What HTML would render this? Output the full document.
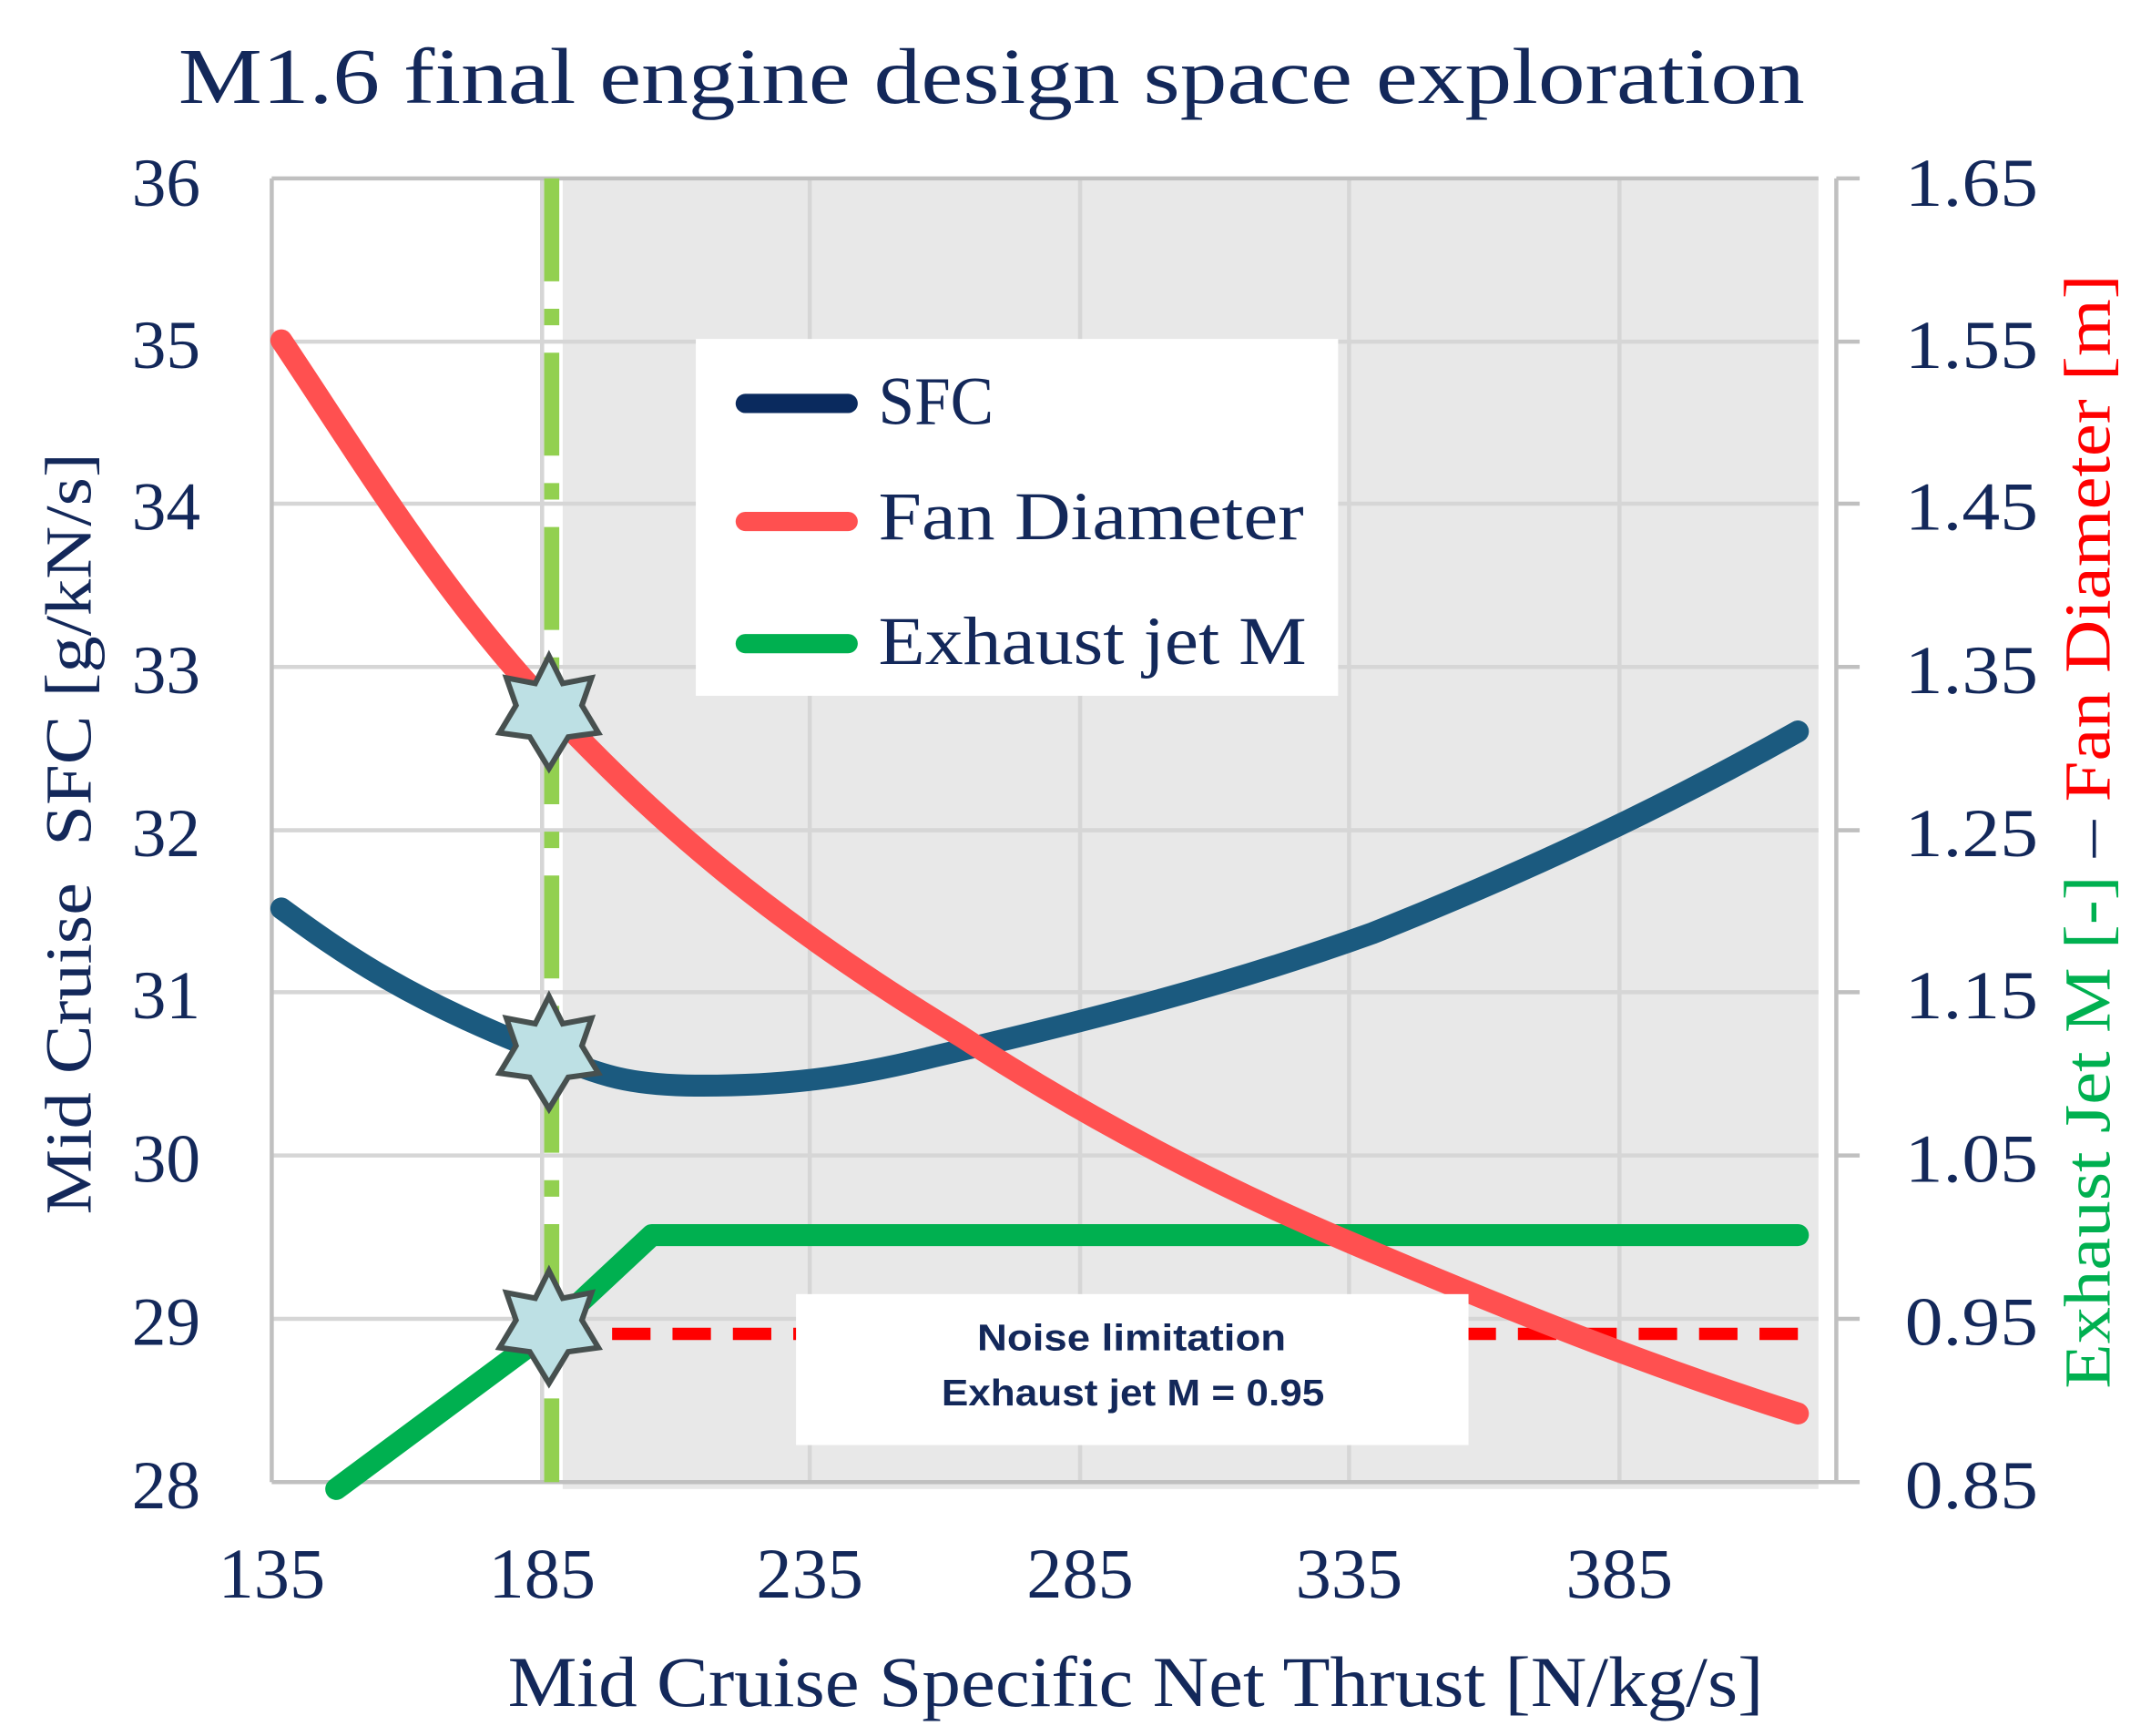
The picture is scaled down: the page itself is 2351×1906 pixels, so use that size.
<!DOCTYPE html>
<html><head><style>html,body{margin:0;padding:0;background:#fff}svg{display:block}</style></head>
<body>
<svg width="2351" height="1906" viewBox="0 0 1560 1265" preserveAspectRatio="none" xmlns="http://www.w3.org/2000/svg">
<defs>
<g id="star"><polygon points="0,-42 10,-22 31,-26 24,-6 36,14 14,17 0,40 -14,17 -36,14 -24,-6 -31,-26 -10,-22" fill="#bde0e4" stroke="#47504f" stroke-width="4" stroke-linejoin="miter"/></g>
</defs>
<text x="130" y="75" textLength="1185" lengthAdjust="spacingAndGlyphs" font-family="Liberation Serif, serif" font-size="58" fill="#13285a">M1.6 final engine design space exploration</text>
<rect x="410" y="130" width="915" height="955" fill="#e8e8e8"/>
<g stroke="#d6d6d6" stroke-width="3">
<line x1="198" y1="249" x2="1325" y2="249"/><line x1="198" y1="367" x2="1325" y2="367"/>
<line x1="198" y1="486" x2="1325" y2="486"/><line x1="198" y1="605" x2="1325" y2="605"/>
<line x1="198" y1="723" x2="1325" y2="723"/><line x1="198" y1="842" x2="1325" y2="842"/>
<line x1="198" y1="961" x2="1325" y2="961"/>
<line x1="395" y1="130" x2="395" y2="1080"/><line x1="590" y1="130" x2="590" y2="1080"/>
<line x1="787" y1="130" x2="787" y2="1080"/><line x1="983" y1="130" x2="983" y2="1080"/>
<line x1="1180" y1="130" x2="1180" y2="1080"/>
</g>
<g stroke="#c0c0c0" stroke-width="3" fill="none">
<line x1="198" y1="130" x2="1325" y2="130"/>
<line x1="198" y1="130" x2="198" y2="1080"/>
<line x1="198" y1="1080" x2="1355" y2="1080"/>
<line x1="1338" y1="130" x2="1338" y2="1080"/>
<line x1="1338" y1="130" x2="1355" y2="130"/><line x1="1338" y1="249" x2="1355" y2="249"/>
<line x1="1338" y1="367" x2="1355" y2="367"/><line x1="1338" y1="486" x2="1355" y2="486"/>
<line x1="1338" y1="605" x2="1355" y2="605"/><line x1="1338" y1="723" x2="1355" y2="723"/>
<line x1="1338" y1="842" x2="1355" y2="842"/><line x1="1338" y1="961" x2="1355" y2="961"/>
</g>
<line x1="402" y1="130" x2="402" y2="1080" stroke="#92d050" stroke-width="11" stroke-dasharray="75,20,12,20"/>
<polyline points="1310,972 420,972" fill="none" stroke="#ff0000" stroke-width="9" stroke-dasharray="28,16"/>
<path d="M245,1085 L400,970 L475,900 L1310,900" fill="none" stroke="#00b050" stroke-width="16" stroke-linecap="round" stroke-linejoin="round"/>
<path d="M205,662 C250,695 300,730 400,768 C440,785 460,790 500,791 C570,792 620,785 680,770 C800,742 900,716 1000,680 C1100,640 1200,595 1310,533" fill="none" stroke="#1b5a7f" stroke-width="16" stroke-linecap="round"/>
<path d="M205,248 C260,330 320,430 400,515 C480,600 560,670 700,755 C800,820 900,870 983,905 C1100,955 1200,995 1310,1030" fill="none" stroke="#ff5050" stroke-width="16" stroke-linecap="round"/>
<rect x="507" y="247" width="468" height="260" fill="#fff"/>
<g stroke-width="14" stroke-linecap="round">
<line x1="543" y1="294" x2="618" y2="294" stroke="#0a2a5e"/>
<line x1="543" y1="380" x2="618" y2="380" stroke="#ff5050"/>
<line x1="543" y1="469" x2="618" y2="469" stroke="#00b050"/>
</g>
<g font-family="Liberation Serif, serif" font-size="50" fill="#13285a" lengthAdjust="spacingAndGlyphs">
<text x="640" y="309" textLength="84" lengthAdjust="spacingAndGlyphs">SFC</text>
<text x="640" y="393" textLength="310" lengthAdjust="spacingAndGlyphs">Fan Diameter</text>
<text x="640" y="484" textLength="312" lengthAdjust="spacingAndGlyphs">Exhaust jet M</text>
</g>
<rect x="580" y="943" width="490" height="110" fill="#fff"/>
<g font-family="Liberation Sans, sans-serif" font-size="27" font-weight="bold" fill="#13285a">
<text x="712" y="984" textLength="225" lengthAdjust="spacingAndGlyphs">Noise limitation</text>
<text x="686" y="1024" textLength="279" lengthAdjust="spacingAndGlyphs">Exhaust jet M = 0.95</text>
</g>
<use href="#star" x="400" y="520"/><use href="#star" x="400" y="768"/><use href="#star" x="400" y="968"/>
<g font-family="Liberation Serif, serif" font-size="50" fill="#13285a" text-anchor="end">
<text x="146" y="150">36</text><text x="146" y="268">35</text><text x="146" y="386">34</text>
<text x="146" y="505">33</text><text x="146" y="624">32</text><text x="146" y="742">31</text>
<text x="146" y="861">30</text><text x="146" y="980">29</text><text x="146" y="1099">28</text>
</g>
<g font-family="Liberation Serif, serif" font-size="50" fill="#13285a">
<text x="1388" y="150" textLength="97" lengthAdjust="spacingAndGlyphs">1.65</text>
<text x="1388" y="268" textLength="97" lengthAdjust="spacingAndGlyphs">1.55</text>
<text x="1388" y="386" textLength="97" lengthAdjust="spacingAndGlyphs">1.45</text>
<text x="1388" y="505" textLength="97" lengthAdjust="spacingAndGlyphs">1.35</text>
<text x="1388" y="624" textLength="97" lengthAdjust="spacingAndGlyphs">1.25</text>
<text x="1388" y="742" textLength="97" lengthAdjust="spacingAndGlyphs">1.15</text>
<text x="1388" y="861" textLength="97" lengthAdjust="spacingAndGlyphs">1.05</text>
<text x="1388" y="980" textLength="97" lengthAdjust="spacingAndGlyphs">0.95</text>
<text x="1388" y="1099" textLength="97" lengthAdjust="spacingAndGlyphs">0.85</text>
</g>
<g font-family="Liberation Serif, serif" font-size="52" fill="#13285a" text-anchor="middle">
<text x="198" y="1164">135</text><text x="395" y="1164">185</text><text x="590" y="1164">235</text>
<text x="787" y="1164">285</text><text x="983" y="1164">335</text><text x="1180" y="1164">385</text>
</g>
<text x="370" y="1243" textLength="915" lengthAdjust="spacingAndGlyphs" font-family="Liberation Serif, serif" font-size="52" fill="#13285a">Mid Cruise Specific Net Thrust [N/kg/s]</text>
<text transform="translate(66,885) rotate(-90)" textLength="555" lengthAdjust="spacingAndGlyphs" font-family="Liberation Serif, serif" font-size="48" fill="#13285a" xml:space="preserve">Mid Cruise  SFC [g/kN/s]</text>
<text transform="translate(1537,1012) rotate(-90)" textLength="812" lengthAdjust="spacingAndGlyphs" font-family="Liberation Serif, serif" font-size="48"><tspan fill="#00b050">Exhaust Jet M [-]</tspan><tspan fill="#13285a"> – </tspan><tspan fill="#ff0000">Fan Diameter [m]</tspan></text>
</svg>
</body></html>
